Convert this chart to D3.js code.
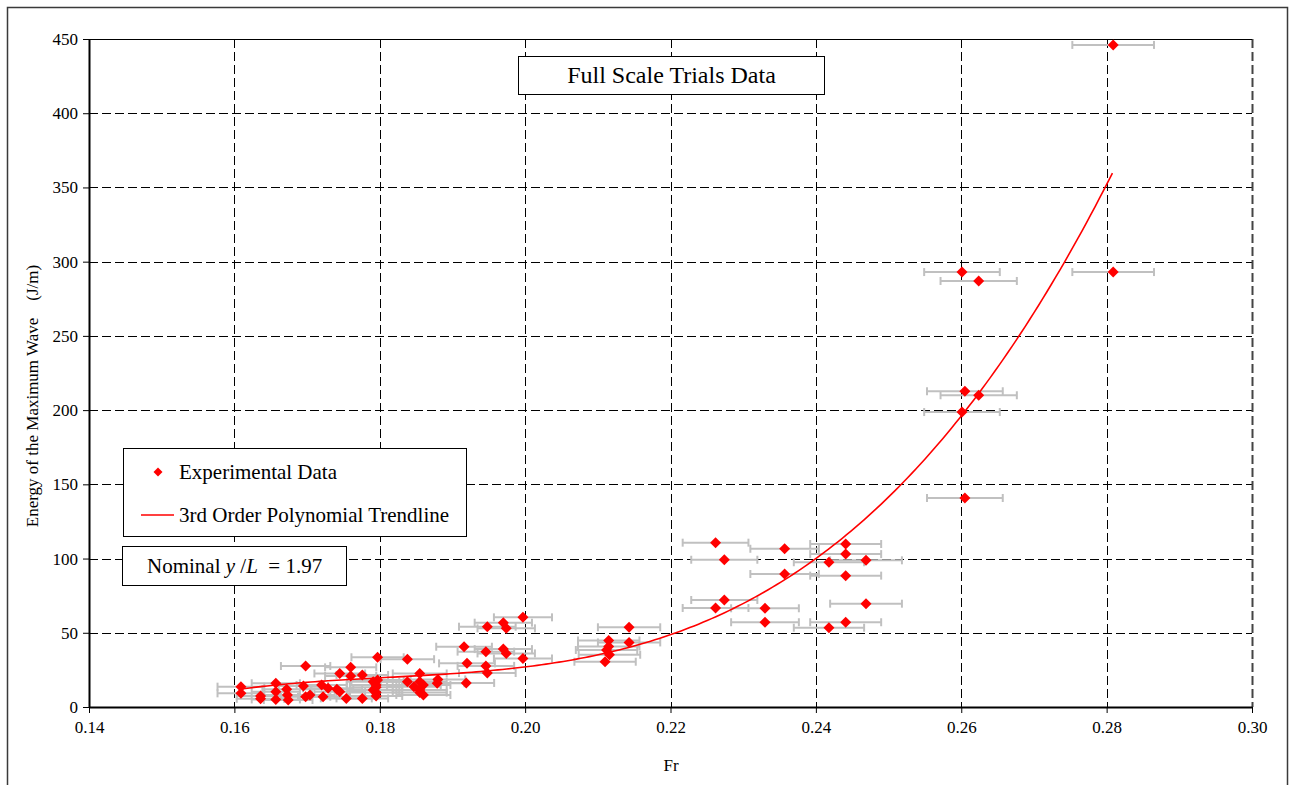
<!DOCTYPE html>
<html>
<head>
<meta charset="utf-8">
<script src="https://cdn.jsdelivr.net/npm/d3@7"></script>
<style>
  html, body { margin: 0; padding: 0; background: #fff; }
  svg { display: block; font-family: "Liberation Serif", "Times New Roman", serif; }
</style>
</head>
<body>
<svg id="chart" width="1294" height="785"></svg>
<script>
// Froude number of each run
const froude = [
  0.1609, 0.1609, 0.1636, 0.1636, 0.1657, 0.1657, 0.1657, 0.1672, 0.1674, 0.1673,
  0.1698, 0.1695, 0.1698, 0.1704, 0.1720, 0.1722, 0.1729, 0.1741, 0.1745, 0.1745,
  0.1754, 0.1760, 0.1760, 0.1776, 0.1776, 0.1791, 0.1791, 0.1795, 0.1795, 0.1797,
  0.1797, 0.1795, 0.1795, 0.1838, 0.1838, 0.1847, 0.1855, 0.1855, 0.1855, 0.1860,
  0.1860, 0.1855, 0.1880, 0.1879,
  0.1997, 0.1948, 0.1970, 0.1974, 0.1916, 0.1946, 0.1970, 0.1974, 0.1997, 0.1920,
  0.1946, 0.1948, 0.1919, 0.2143, 0.2143, 0.2115, 0.2115, 0.2112, 0.2116, 0.2110,
  0.2262, 0.2357, 0.2441, 0.2441, 0.2274, 0.2418, 0.2469, 0.2357, 0.2441, 0.2274,
  0.2262, 0.2330, 0.2469, 0.2330, 0.2441, 0.2418,
  0.2601, 0.2624, 0.2605, 0.2624, 0.2601, 0.2605, 0.2809, 0.2809
];

// Energy of the maximum wave for each run (J/m)
const energy = [
  13.7, 9.2, 7.4, 5.5, 16.0, 10.3, 5.1, 11.9, 4.7, 8.0,
  27.6, 14.1, 6.9, 8.1, 14.8, 6.9, 12.6, 11.9, 22.6, 10.3,
  5.8, 26.7, 20.9, 21.6, 5.8, 17.0, 11.5, 13.3, 7.4, 33.5,
  18.2, 9.7, 14.8, 32.2, 17.0, 13.7, 22.6, 17.0, 11.5, 8.1,
  14.8, 9.7, 18.6, 16.0,
  60.4, 54.1, 56.8, 53.0, 40.6, 37.3, 39.0, 36.1, 32.7, 29.4,
  27.7, 22.9, 16.2, 53.7, 43.5, 44.8, 40.8, 38.4, 35.2, 30.5,
  110.7, 106.6, 109.8, 103.0, 99.2, 97.5, 98.8, 89.6, 88.5, 72.1,
  66.7, 66.5, 69.6, 57.1, 57.1, 53.4,
  293, 287, 212.7, 210, 198.7, 140.8, 446, 293
];

// Relative uncertainty of the Froude number (horizontal error bars)
const frUncertainty = 0.02;

// 3rd order polynomial trendline: E = c0 + c1·t + c2·t² + c3·t³, t = (Fr − 0.16) / 0.04
const trendCoef = [11.5, 27.25, -32, 20.25];
const trendRange = [0.1609, 0.2808];

// Axis ticks
const xTicks = [0.14, 0.16, 0.18, 0.20, 0.22, 0.24, 0.26, 0.28, 0.30];
const yTicks = [0, 50, 100, 150, 200, 250, 300, 350, 400, 450];

const title = "Full Scale Trials Data";
const xLabel = "Fr";
const yLabel = "Energy of the Maximum Wave\u00a0\u00a0\u00a0\u00a0(J/m)";
const legendItems = ["Experimental Data", "3rd Order Polynomial Trendline"];

const serif = "'Liberation Serif', 'Times New Roman', serif";
const svg = d3.select("#chart");
const plot = { left: 89, top: 39, right: 1252, bottom: 707 };

const x = d3.scaleLinear().domain([0.14, 0.30]).range([plot.left, plot.right]);
const y = d3.scaleLinear().domain([0, 450]).range([plot.bottom, plot.top]);

// Outer chart frame
svg.append("rect")
  .attr("x", 7.5).attr("y", 7.5).attr("width", 1280).attr("height", 790)
  .attr("fill", "#fff").attr("stroke", "#3a3a3a").attr("stroke-width", 1.5);

// Dashed gridlines
const grid = svg.append("g").attr("stroke", "#000").attr("stroke-width", 1)
  .attr("stroke-dasharray", "9,4");
grid.selectAll("line.h").data(yTicks.filter(d => d > 0 && d < 450)).join("line")
  .attr("x1", plot.left).attr("x2", plot.right)
  .attr("y1", d => Math.round(y(d)) + 0.5).attr("y2", d => Math.round(y(d)) + 0.5);
grid.selectAll("line.v").data(xTicks.filter(d => d > 0.141)).join("line")
  .attr("y1", plot.top).attr("y2", plot.bottom)
  .attr("x1", d => Math.round(x(d)) + 0.5).attr("x2", d => Math.round(x(d)) + 0.5)
  .attr("stroke", d => d > 0.29 ? "#444" : "#000")
  .attr("stroke-width", d => d > 0.29 ? 2 : 1);

// Top border of the plot area
svg.append("line")
  .attr("x1", plot.left).attr("x2", plot.right)
  .attr("y1", plot.top + 0.5).attr("y2", plot.top + 0.5)
  .attr("stroke", "#000").attr("stroke-width", 1.2);

// Axes
const xAxis = d3.axisBottom(x).tickValues(xTicks).tickFormat(d3.format(".2f"))
  .tickSizeInner(6).tickSizeOuter(0).tickPadding(8);
const yAxis = d3.axisLeft(y).tickValues(yTicks).tickFormat(d3.format("d"))
  .tickSizeInner(6).tickSizeOuter(0).tickPadding(5);

const gx = svg.append("g").attr("transform", `translate(0,${plot.bottom})`).call(xAxis);
const gy = svg.append("g").attr("transform", `translate(${plot.left},0)`).call(yAxis);
[gx, gy].forEach(g => {
  g.attr("font-family", serif).attr("font-size", 17);
  g.select(".domain").attr("stroke", "#000").attr("stroke-width", 2);
  g.selectAll(".tick line").attr("stroke", "#000").attr("stroke-width", 1);
  g.selectAll(".tick text").attr("fill", "#000");
});

// Horizontal error bars
const pts = froude.map((f, i) => ({ fr: f, e: energy[i] }));
const eb = svg.append("g").attr("stroke", "#c0c0c0").attr("stroke-width", 2).attr("fill", "none");
const ebRows = eb.selectAll("g").data(pts).join("g");
ebRows.append("line")
  .attr("x1", d => x(d.fr * (1 - frUncertainty))).attr("x2", d => x(d.fr * (1 + frUncertainty)))
  .attr("y1", d => y(d.e)).attr("y2", d => y(d.e));
ebRows.append("line")
  .attr("x1", d => x(d.fr * (1 - frUncertainty))).attr("x2", d => x(d.fr * (1 - frUncertainty)))
  .attr("y1", d => y(d.e) - 4).attr("y2", d => y(d.e) + 4);
ebRows.append("line")
  .attr("x1", d => x(d.fr * (1 + frUncertainty))).attr("x2", d => x(d.fr * (1 + frUncertainty)))
  .attr("y1", d => y(d.e) - 4).attr("y2", d => y(d.e) + 4);

// Trendline
const trend = fr => {
  const t = (fr - 0.16) / 0.04;
  return trendCoef.reduce((s, c, k) => s + c * Math.pow(t, k), 0);
};
const trendFr = d3.range(0, 201).map(i => trendRange[0] + (trendRange[1] - trendRange[0]) * i / 200);
svg.append("path")
  .datum(trendFr)
  .attr("fill", "none").attr("stroke", "#ff0000").attr("stroke-width", 1.6)
  .attr("d", d3.line().x(d => x(d)).y(d => y(trend(d))));

// Experimental data markers (diamonds)
const diamond = r => `M0,${-r}L${r},0L0,${r}L${-r},0Z`;
svg.append("g").selectAll("path").data(pts).join("path")
  .attr("transform", d => `translate(${x(d.fr)},${y(d.e)})`)
  .attr("d", diamond(5.5))
  .attr("fill", "#ff0000");

// Title box
const titleG = svg.append("g");
titleG.append("rect").attr("x", 518.5).attr("y", 56.5).attr("width", 306).attr("height", 38)
  .attr("fill", "#fff").attr("stroke", "#000").attr("stroke-width", 1);
titleG.append("text").attr("x", 671.5).attr("y", 83).attr("text-anchor", "middle")
  .style("font-size", "24px").text(title);

// Legend
const lg = svg.append("g");
lg.append("rect").attr("x", 123.5).attr("y", 448.5).attr("width", 343).attr("height", 88)
  .attr("fill", "#fff").attr("stroke", "#000").attr("stroke-width", 1);
lg.append("path").attr("transform", "translate(158,472)").attr("d", diamond(4.5)).attr("fill", "#ff0000");
lg.append("text").attr("x", 179).attr("y", 479).style("font-size", "21px").text(legendItems[0]);
lg.append("line").attr("x1", 141).attr("x2", 174).attr("y1", 515).attr("y2", 515)
  .attr("stroke", "#ff0000").attr("stroke-width", 1.5);
lg.append("text").attr("x", 179).attr("y", 522).style("font-size", "21px").text(legendItems[1]);

// Nominal draught ratio box
const nb = svg.append("g");
nb.append("rect").attr("x", 122.5).attr("y", 546.5).attr("width", 224).attr("height", 39)
  .attr("fill", "#fff").attr("stroke", "#000").attr("stroke-width", 1);
const nt = nb.append("text").attr("x", 147).attr("y", 573).style("font-size", "21px");
nt.append("tspan").text("Nominal ");
nt.append("tspan").style("font-style", "italic").text("y");
nt.append("tspan").text(" /");
nt.append("tspan").style("font-style", "italic").text("L");
nt.append("tspan").text(" \u00a0= 1.97");

// Axis titles
svg.append("text").attr("x", 671).attr("y", 771).attr("text-anchor", "middle")
  .style("font-size", "17px").text(xLabel);
svg.append("text").attr("transform", "translate(38,396) rotate(-90)").attr("text-anchor", "middle")
  .style("font-size", "17px").text(yLabel);
</script>
</body>
</html>
